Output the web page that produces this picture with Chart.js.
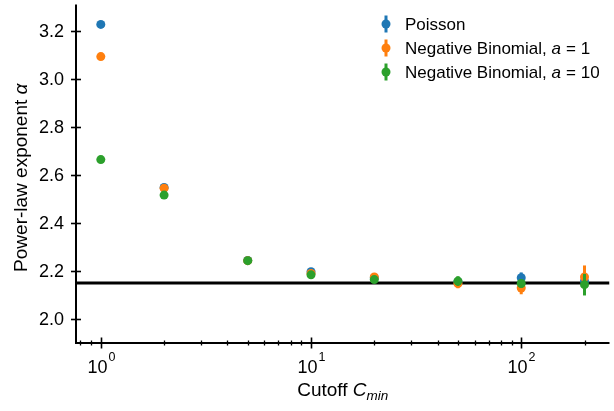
<!DOCTYPE html>
<html><head><meta charset="utf-8">
<script src="https://cdn.jsdelivr.net/npm/chart.js@4/dist/chart.umd.min.js"></script>
<style>html,body{margin:0;padding:0;background:#fff}#wrap{width:614px;height:411px}</style>
</head><body><div id="wrap"><canvas id="c" width="614" height="411"></canvas></div>
<script>
// ---- data ----
const cutoffs = [1, 2, 5, 10, 20, 50, 100, 200];
const poisson     = [3.227, 2.548, 2.244, 2.197, 2.172, 2.155, 2.172, 2.158];
const poissonErr  = [0.004, 0.004, 0.004, 0.006, 0.008, 0.012, 0.022, 0.030];
const negBin1     = [3.093, 2.545, 2.243, 2.190, 2.175, 2.148, 2.129, 2.175];
const negBin1Err  = [0.004, 0.004, 0.005, 0.007, 0.010, 0.020, 0.026, 0.048];
const negBin10    = [2.664, 2.516, 2.243, 2.184, 2.164, 2.158, 2.148, 2.143];
const negBin10Err = [0.003, 0.004, 0.005, 0.006, 0.008, 0.020, 0.018, 0.045];
const referenceAlpha = 2.15;
const yTicks = [2.0, 2.2, 2.4, 2.6, 2.8, 3.0, 3.2];
const xMajorTicks = [1, 10, 100];
const xTickExponents = ['0', '1', '2'];
const xMinorTicks = [0.8, 0.9, 2, 3, 4, 5, 6, 7, 8, 9, 20, 30, 40, 50, 60, 70, 80, 90, 200];
const seriesLabels = ['Poisson', 'Negative Binomial, a = 1', 'Negative Binomial, a = 10'];
const legendParams = [null, '1', '10'];

const X_MIN = 0.762, X_MAX = 263, Y_MIN = 1.9, Y_MAX = 3.31;
const colors = ['#1f77b4', '#ff7f0e', '#2ca02c'];
const FONT = "'Liberation Sans', Arial, sans-serif";

const seriesVals = [poisson, negBin1, negBin10];
const seriesErrs = [poissonErr, negBin1Err, negBin10Err];

const datasets = seriesVals.map((vals, i) => ({
  type: 'scatter',
  label: seriesLabels[i],
  data: cutoffs.map((c, j) => ({x: c, y: vals[j]})),
  errors: seriesErrs[i],
  backgroundColor: colors[i],
  borderColor: colors[i],
  borderWidth: 0,
  pointRadius: 4.5,
  pointHoverRadius: 4.5,
  order: 3 - i
}));
datasets.push({
  type: 'line',
  label: 'reference',
  data: [{x: X_MIN, y: referenceAlpha}, {x: X_MAX, y: referenceAlpha}],
  borderColor: '#000',
  borderWidth: 3,
  pointRadius: 0,
  order: 10
});

const errPlugin = {
  id: 'errbars',
  beforeDatasetDraw(chart, args) {
    const ds = chart.data.datasets[args.index];
    if (!ds.errors) return;
    const ctx = chart.ctx, xs = chart.scales.x, ys = chart.scales.y;
    ctx.save();
    ctx.strokeStyle = ds.borderColor;
    ctx.lineWidth = 3;
    ds.data.forEach((p, j) => {
      const e = ds.errors[j];
      const px = xs.getPixelForValue(p.x);
      ctx.beginPath();
      ctx.moveTo(px, ys.getPixelForValue(p.y - e));
      ctx.lineTo(px, ys.getPixelForValue(p.y + e));
      ctx.stroke();
    });
    ctx.restore();
  }
};

const axesPlugin = {
  id: 'axesDraw',
  afterDraw(chart) {
    const ctx = chart.ctx, xs = chart.scales.x, ys = chart.scales.y;
    const a = chart.chartArea;
    ctx.save();
    ctx.strokeStyle = '#000';
    ctx.fillStyle = '#000';
    // spines
    ctx.lineWidth = 2;
    ctx.beginPath();
    ctx.moveTo(a.left, a.top); ctx.lineTo(a.left, a.bottom); ctx.lineTo(a.right, a.bottom);
    ctx.stroke();
    // y ticks
    ctx.lineWidth = 1.6;
    ctx.font = '18px ' + FONT;
    ctx.textAlign = 'right'; ctx.textBaseline = 'middle';
    yTicks.forEach(v => {
      const py = Math.round(ys.getPixelForValue(v)) + 0.5;
      ctx.beginPath(); ctx.moveTo(a.left - 5, py); ctx.lineTo(a.left + 5, py); ctx.stroke();
      ctx.fillText(v.toFixed(1), a.left - 12, py + 1);
    });
    // x minor ticks
    ctx.lineWidth = 1.3;
    xMinorTicks.forEach(v => {
      const px = Math.round(xs.getPixelForValue(v)) + 0.5;
      ctx.beginPath(); ctx.moveTo(px, a.bottom - 2.5); ctx.lineTo(px, a.bottom + 2.5); ctx.stroke();
    });
    // x major ticks + labels
    ctx.lineWidth = 1.6;
    xMajorTicks.forEach((v, k) => {
      const px = Math.round(xs.getPixelForValue(v)) + 0.5;
      ctx.beginPath(); ctx.moveTo(px, a.bottom - 5.5); ctx.lineTo(px, a.bottom + 5.5); ctx.stroke();
      ctx.font = '18px ' + FONT;
      const w1 = ctx.measureText('10').width;
      ctx.font = '12.5px ' + FONT;
      const w2 = ctx.measureText(xTickExponents[k]).width;
      const x0 = px - (w1 + w2 + 1) / 2;
      ctx.textAlign = 'left'; ctx.textBaseline = 'alphabetic';
      ctx.font = '18px ' + FONT;
      ctx.fillText('10', x0, a.bottom + 30);
      ctx.font = '12.5px ' + FONT;
      ctx.fillText(xTickExponents[k], x0 + w1 + 1, a.bottom + 18);
    });
    // x axis title: Cutoff C_min
    ctx.textBaseline = 'alphabetic';
    ctx.font = '19px ' + FONT;
    const t1 = 'Cutoff ';
    const wt1 = ctx.measureText(t1).width;
    ctx.font = 'italic 19px ' + FONT;
    const wt2 = ctx.measureText('C').width;
    ctx.font = 'italic 13.5px ' + FONT;
    const wt3 = ctx.measureText('min').width;
    const cx = (a.left + a.right) / 2;
    let xx = cx - (wt1 + wt2 + wt3) / 2;
    const by = a.bottom + 53;
    ctx.textAlign = 'left';
    ctx.font = '19px ' + FONT; ctx.fillText(t1, xx, by); xx += wt1;
    ctx.font = 'italic 19px ' + FONT; ctx.fillText('C', xx, by); xx += wt2;
    ctx.font = 'italic 13.5px ' + FONT; ctx.fillText('min', xx, by + 4);
    // y axis title
    ctx.save();
    ctx.translate(22, (a.top + a.bottom) / 2 + 4);
    ctx.rotate(-Math.PI / 2);
    ctx.font = '19px ' + FONT;
    const s1 = 'Power-law exponent ';
    const ws1 = ctx.measureText(s1).width;
    ctx.font = 'italic 19px ' + FONT;
    const ws2 = ctx.measureText('α').width;
    ctx.textAlign = 'left'; ctx.textBaseline = 'middle';
    let yy = -(ws1 + ws2) / 2;
    ctx.font = '19px ' + FONT; ctx.fillText(s1, yy, 0);
    ctx.font = 'italic 19px ' + FONT; ctx.fillText('α', yy + ws1, 0);
    ctx.restore();
    // legend
    const lx = 386, ly0 = 24, dy = 24, tx = 405;
    seriesLabels.forEach((lab, i) => {
      const cy = ly0 + i * dy;
      ctx.strokeStyle = colors[i]; ctx.fillStyle = colors[i];
      ctx.lineWidth = 3;
      ctx.beginPath(); ctx.moveTo(lx, cy - 8.5); ctx.lineTo(lx, cy + 8.5); ctx.stroke();
      ctx.beginPath(); ctx.arc(lx, cy, 4.5, 0, Math.PI * 2); ctx.fill();
      ctx.fillStyle = '#000';
      ctx.textAlign = 'left'; ctx.textBaseline = 'middle';
      if (legendParams[i] === null) {
        ctx.font = '17px ' + FONT;
        ctx.fillText(lab, tx, cy + 1);
      } else {
        let px = tx;
        ctx.font = '17px ' + FONT;
        const p1 = 'Negative Binomial, ';
        ctx.fillText(p1, px, cy + 1); px += ctx.measureText(p1).width;
        ctx.font = 'italic 17px ' + FONT;
        ctx.fillText('a', px, cy + 1); px += ctx.measureText('a').width + 5;
        ctx.font = '17px ' + FONT;
        ctx.fillText('=', px, cy + 1); px += ctx.measureText('=').width + 5;
        ctx.fillText(legendParams[i], px, cy + 1);
      }
    });
    ctx.restore();
  }
};

new Chart(document.getElementById('c'), {
  data: {datasets},
  options: {
    responsive: false,
    animation: false,
    devicePixelRatio: 1,
    layout: {padding: {left: 76, right: 0, top: 0, bottom: 68}},
    scales: {
      x: {type: 'logarithmic', min: X_MIN, max: X_MAX, display: false},
      y: {type: 'linear', min: Y_MIN, max: Y_MAX, display: false}
    },
    plugins: {legend: {display: false}, tooltip: {enabled: false}}
  },
  plugins: [errPlugin, axesPlugin]
});
</script>
</body></html>
